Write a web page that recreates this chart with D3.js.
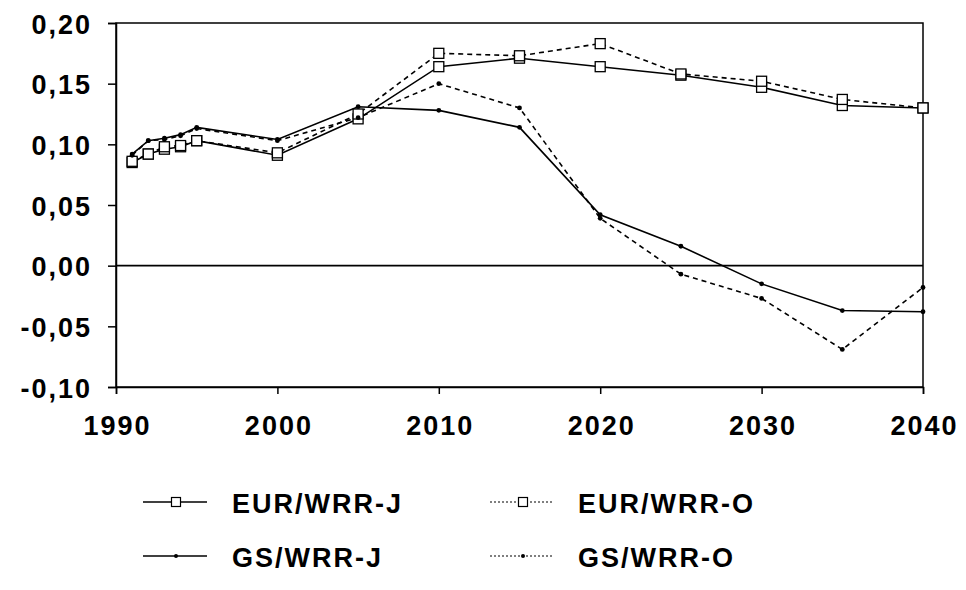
<!DOCTYPE html>
<html><head><meta charset="utf-8">
<script src="https://cdn.jsdelivr.net/npm/d3@7"></script>
<style>
html,body{margin:0;padding:0;background:#fff;}
text{font-family:"Liberation Sans",Arial,sans-serif;font-weight:bold;fill:#000;}
</style></head>
<body><svg id="c" width="966" height="590"></svg>
<script>
const years = [1991,1992,1993,1994,1995,2000,2005,2010,2015,2020,2025,2030,2035,2040];
const eurJ = [0.085,0.092,0.096,0.098,0.103,0.091,0.121,0.164,0.171,0.164,0.157,0.147,0.132,0.130];
const eurO = [0.086,0.092,0.098,0.099,0.103,0.093,0.125,0.175,0.173,0.183,0.158,0.152,0.137,0.130];
const gsJ  = [0.092,0.103,0.105,0.108,0.114,0.104,0.131,0.128,0.114,0.042,0.016,-0.015,-0.037,-0.038];
const gsO  = [0.091,0.103,0.104,0.107,0.113,0.103,0.122,0.150,0.130,0.039,-0.007,-0.027,-0.069,-0.018];
const xTicks = [1990,2000,2010,2020,2030,2040];
const yTicks = [-0.10,-0.05,0.00,0.05,0.10,0.15,0.20];
const seriesNames = ["EUR/WRR-J","EUR/WRR-O","GS/WRR-J","GS/WRR-O"];

const svg = d3.select("#c");
const L=116, R=923, T=23, B=387;
const x = d3.scaleLinear().domain([1990,2040]).range([L,R]);
const y = d3.scaleLinear().domain([-0.10,0.20]).range([B,T]);
const fmt = v => d3.format(".2f")(v).replace(".",",").replace("−","-");

// frame
svg.append("rect").attr("x",L).attr("y",T).attr("width",R-L).attr("height",B-T)
  .attr("fill","none").attr("stroke","#000").attr("stroke-width",1.5);
// zero line
svg.append("line").attr("x1",L).attr("x2",R).attr("y1",y(0)).attr("y2",y(0))
  .attr("stroke","#000").attr("stroke-width",1.6);

// axes
const yAxis = svg.append("g").attr("transform",`translate(${L},0)`)
  .call(d3.axisLeft(y).tickValues(yTicks).tickFormat(fmt).tickSize(8).tickPadding(16));
const xAxis = svg.append("g").attr("transform",`translate(0,${B})`)
  .call(d3.axisBottom(x).tickValues(xTicks).tickFormat(d3.format("d")).tickSize(7).tickPadding(22));
[yAxis,xAxis].forEach(a=>{
  a.select(".domain").attr("stroke","#000").attr("stroke-width",1.5);
  a.selectAll(".tick line").attr("stroke","#000").attr("stroke-width",1.5);
  a.selectAll("text").style("font-size","27px").style("letter-spacing","2px")
   .style("font-family","'Liberation Sans',Arial,sans-serif").style("font-weight","bold").attr("fill","#000");
});
yAxis.selectAll("text").attr("dy","0.38em");
xAxis.selectAll("text").attr("dy","0.71em").attr("dx","1px");

const line = d3.line().x((d,i)=>x(years[i])).y(d=>y(d));
const data = [
  {v:eurJ, dash:null, mark:"sq"},
  {v:eurO, dash:"5,4", mark:"sq"},
  {v:gsJ, dash:null, mark:"dot"},
  {v:gsO, dash:"5,4", mark:"dot"}
];
data.forEach(s=>{
  svg.append("path").datum(s.v).attr("d",line).attr("fill","none")
    .attr("stroke","#000").attr("stroke-width",1.6)
    .attr("stroke-dasharray",s.dash);
});
data.forEach(s=>{
  s.v.forEach((v,i)=>{
    if(s.mark==="sq"){
      svg.append("rect").attr("x",x(years[i])-5).attr("y",y(v)-5).attr("width",10).attr("height",10)
        .attr("fill","#fff").attr("stroke","#000").attr("stroke-width",1.3);
    } else {
      svg.append("circle").attr("cx",x(years[i])).attr("cy",y(v)).attr("r",2.4).attr("fill","#000");
    }
  });
});

// legend
const leg = [
  {name:seriesNames[0], dash:null, mark:"sq", lx:143, tx:232, ly:502},
  {name:seriesNames[1], dash:"2,2", mark:"sq", lx:490, tx:578, ly:502},
  {name:seriesNames[2], dash:null, mark:"dot", lx:143, tx:232, ly:556},
  {name:seriesNames[3], dash:"2,2", mark:"dot", lx:490, tx:578, ly:556}
];
leg.forEach(l=>{
  svg.append("line").attr("x1",l.lx).attr("x2",l.lx+64).attr("y1",l.ly).attr("y2",l.ly)
    .attr("stroke","#000").attr("stroke-width",l.dash?1.2:1.6).attr("stroke-dasharray",l.dash);
  const cx=l.lx+33;
  if(l.mark==="sq") svg.append("rect").attr("x",cx-4.5).attr("y",l.ly-4.5).attr("width",9).attr("height",9)
      .attr("fill","#fff").attr("stroke","#000").attr("stroke-width",1.2);
  else svg.append("circle").attr("cx",cx).attr("cy",l.ly).attr("r",2).attr("fill","#000");
  svg.append("text").attr("x",l.tx).attr("y",l.ly+11).text(l.name)
    .style("font-size","27px").style("letter-spacing","2px");
});
</script></body></html>
